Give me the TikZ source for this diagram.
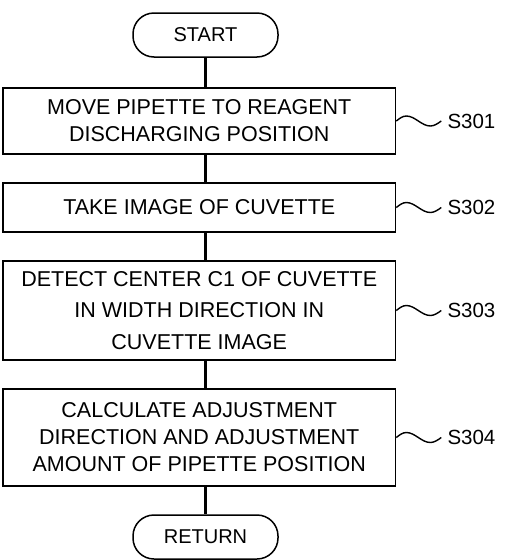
\documentclass[tikz,border=0pt]{standalone}
\usepackage{fontspec}
\setmainfont{Liberation Sans}
\begin{document}
\begin{tikzpicture}[x=1pt,y=-1pt,
  stepbox/.style={draw, line width=1.6pt, minimum width=392.5pt, inner sep=0pt, align=center,
    font=\fontsize{21.5}{27}\selectfont},
  term/.style={draw, line width=1.5pt, rounded corners=21pt, minimum width=145pt, minimum height=44pt,
    inner sep=0pt, font=\fontsize{20}{24}\selectfont},
  conn/.style={line width=2.1pt},
  squig/.style={line width=1.4pt},
  lbl/.style={anchor=west, inner sep=0pt, xshift=6pt, font=\fontsize{20.5}{24}\selectfont}]
\useasboundingbox (0,0) rectangle (505,560);
\node[term] (start) at (205.5,35) {START};
\node[stepbox, minimum height=66pt] (s301) at (199.25,121) {MOVE PIPETTE TO REAGENT\\DISCHARGING POSITION};
\node[stepbox, minimum height=49pt] (s302) at (199.25,207.5) {TAKE IMAGE OF CUVETTE};
\node[stepbox, minimum height=99pt, font=\fontsize{21.5}{31.7}\selectfont] (s303) at (199.25,310.5) {DETECT CENTER C1 OF CUVETTE\\IN WIDTH DIRECTION IN\\CUVETTE IMAGE};
\node[stepbox, minimum height=97pt] (s304) at (199.25,437.5) {CALCULATE ADJUSTMENT\\DIRECTION AND ADJUSTMENT\\AMOUNT OF PIPETTE POSITION};
\node[term] (ret) at (205.5,537) {RETURN};
\draw[conn] (start.south) -- (start.south |- s301.north);
\draw[conn] (start.south |- s301.south) -- (start.south |- s302.north);
\draw[conn] (start.south |- s302.south) -- (start.south |- s303.north);
\draw[conn] (start.south |- s303.south) -- (start.south |- s304.north);
\draw[conn] (start.south |- s304.south) -- (ret.north);
\foreach \n/\t in {s301/S301, s302/S302, s303/S303, s304/S304}{
  \draw[squig] (\n.east) sin ++(10,-5) cos ++(12,5) sin ++(12,5) cos ++(11,-5) coordinate (e\n);
  \node[lbl] (l\n) at (e\n) {\t};
}
\end{tikzpicture}
\end{document}
